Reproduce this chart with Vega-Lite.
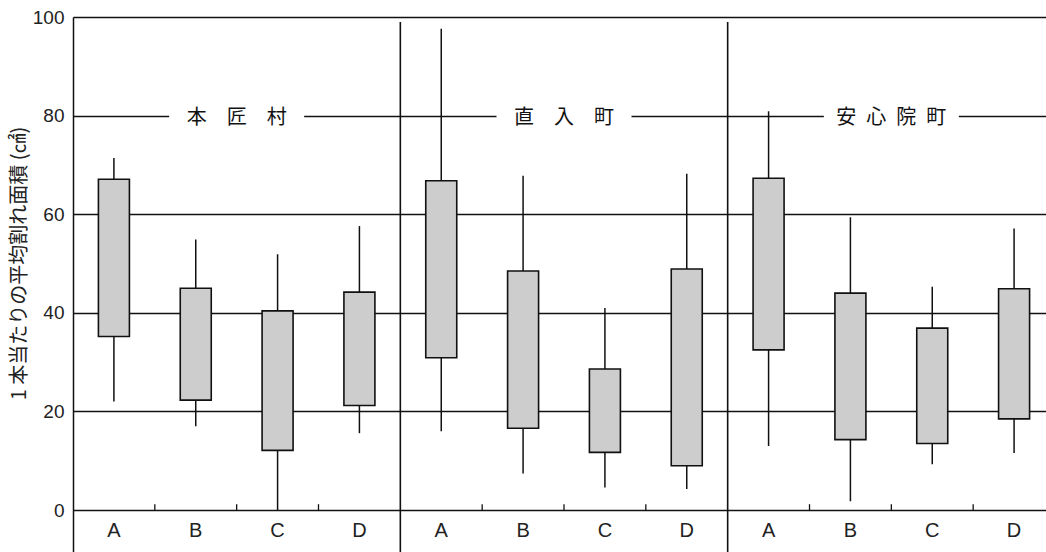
{
  "$schema": "https://vega.github.io/schema/vega-lite/v6.json",
  "autosize": {"type": "none"},
  "padding": {"left": 73, "top": 17, "right": 0, "bottom": 0},
  "width": 973,
  "height": 535,
  "background": "white",
  "config": {"view": {"stroke": null}},
  "datasets": {
    "boxes": [
      {"group": "本匠村", "cat": "A", "key": "本匠村A", "lo": 22.0, "q1": 35.2, "q3": 67.1, "hi": 71.4},
      {"group": "本匠村", "cat": "B", "key": "本匠村B", "lo": 17.0, "q1": 22.3, "q3": 45.0, "hi": 54.9},
      {"group": "本匠村", "cat": "C", "key": "本匠村C", "lo": 0.0, "q1": 12.1, "q3": 40.4, "hi": 51.9},
      {"group": "本匠村", "cat": "D", "key": "本匠村D", "lo": 15.6, "q1": 21.2, "q3": 44.2, "hi": 57.6},
      {"group": "直入町", "cat": "A", "key": "直入町A", "lo": 16.0, "q1": 30.9, "q3": 66.8, "hi": 97.6},
      {"group": "直入町", "cat": "B", "key": "直入町B", "lo": 7.4, "q1": 16.6, "q3": 48.5, "hi": 67.8},
      {"group": "直入町", "cat": "C", "key": "直入町C", "lo": 4.6, "q1": 11.7, "q3": 28.6, "hi": 41.0},
      {"group": "直入町", "cat": "D", "key": "直入町D", "lo": 4.3, "q1": 9.0, "q3": 48.9, "hi": 68.2},
      {"group": "安心院町", "cat": "A", "key": "安心院町A", "lo": 13.0, "q1": 32.5, "q3": 67.3, "hi": 80.9},
      {"group": "安心院町", "cat": "B", "key": "安心院町B", "lo": 1.8, "q1": 14.3, "q3": 44.0, "hi": 59.4},
      {"group": "安心院町", "cat": "C", "key": "安心院町C", "lo": 9.3, "q1": 13.5, "q3": 36.9, "hi": 45.3},
      {"group": "安心院町", "cat": "D", "key": "安心院町D", "lo": 11.6, "q1": 18.5, "q3": 44.9, "hi": 57.1}
    ],
    "groups": [
      {"key": "本匠村B", "label": "本　匠　村", "sep": true},
      {"key": "直入町B", "label": "直　入　町", "sep": true},
      {"key": "安心院町B", "label": "安\u2002心\u2002院\u2002町", "sep": false}
    ]
  },
  "encoding": {
    "x": {
      "field": "key",
      "type": "nominal",
      "axis": null,
      "scale": {
        "domain": ["本匠村A", "本匠村B", "本匠村C", "本匠村D", "直入町A", "直入町B", "直入町C", "直入町D", "安心院町A", "安心院町B", "安心院町C", "安心院町D"],
        "range": [0, 982],
        "paddingInner": 0,
        "paddingOuter": 0
      }
    }
  },
  "layer": [
    {
      "data": {"name": "groups"},
      "mark": {"type": "point", "shape": "M-1,-0.1H1V0.1H-1Z", "filled": true, "color": "white", "opacity": 1, "size": 18225, "strokeWidth": 0},
      "encoding": {
        "x": {"field": "key", "type": "nominal", "bandPosition": 1},
        "y": {
          "datum": 80,
          "type": "quantitative",
          "scale": {"domain": [-8.5, 100], "nice": false, "zero": false},
          "axis": {
            "values": [0, 20, 40, 60, 80, 100],
            "grid": true,
            "gridColor": "#111111",
            "gridWidth": 1.4,
            "domainColor": "#111111",
            "domainWidth": 1.5,
            "ticks": false,
            "labelFont": "Liberation Sans",
            "labelFontSize": 19,
            "labelColor": "#222222",
            "labelPadding": 9,
            "title": "1 本当たりの平均割れ面積 (㎠)",
            "titleFont": "Noto Sans CJK JP",
            "titleFontSize": 20,
            "titleFontWeight": "normal",
            "titleColor": "#222222",
            "titleX": -54,
            "titleY": 246,
            "titleBaseline": "middle",
            "titleAngle": -90
          }
        }
      }
    },
    {
      "data": {"name": "groups"},
      "mark": {"type": "text", "font": "Noto Sans CJK JP", "fontSize": 20, "color": "#111111", "align": "center", "baseline": "middle", "dy": 2},
      "encoding": {
        "x": {"field": "key", "type": "nominal", "bandPosition": 1},
        "y": {"datum": 80, "type": "quantitative"},
        "text": {"field": "label"}
      }
    },
    {
      "data": {"name": "groups"},
      "transform": [{"filter": "datum.sep"}],
      "mark": {"type": "rule", "color": "#111111", "strokeWidth": 1.6},
      "encoding": {
        "x": {"field": "key", "type": "nominal", "bandPosition": 3},
        "y": {"datum": 99, "type": "quantitative"},
        "y2": {"datum": -8.5}
      }
    },
    {
      "data": {"name": "boxes"},
      "transform": [{"filter": "datum.cat != 'D'"}],
      "mark": {"type": "rule", "color": "#111111", "strokeWidth": 1.3},
      "encoding": {
        "x": {"field": "key", "type": "nominal", "bandPosition": 1},
        "y": {"datum": 0, "type": "quantitative"},
        "y2": {"datum": 1.2}
      }
    },
    {
      "data": {"name": "boxes"},
      "mark": {"type": "rule", "color": "#111111", "strokeWidth": 1.5},
      "encoding": {
        "y": {"field": "lo", "type": "quantitative"},
        "y2": {"field": "hi"}
      }
    },
    {
      "data": {"name": "boxes"},
      "mark": {"type": "bar", "size": 31, "fill": "#cdcdcd", "stroke": "#111111", "strokeWidth": 1.6},
      "encoding": {
        "y": {"field": "q1", "type": "quantitative"},
        "y2": {"field": "q3"}
      }
    },
    {
      "data": {"name": "boxes"},
      "mark": {"type": "text", "font": "Liberation Sans", "fontSize": 20, "color": "#222222", "align": "center", "baseline": "middle"},
      "encoding": {
        "y": {"datum": -4.2, "type": "quantitative"},
        "text": {"field": "cat"}
      }
    }
  ]
}
